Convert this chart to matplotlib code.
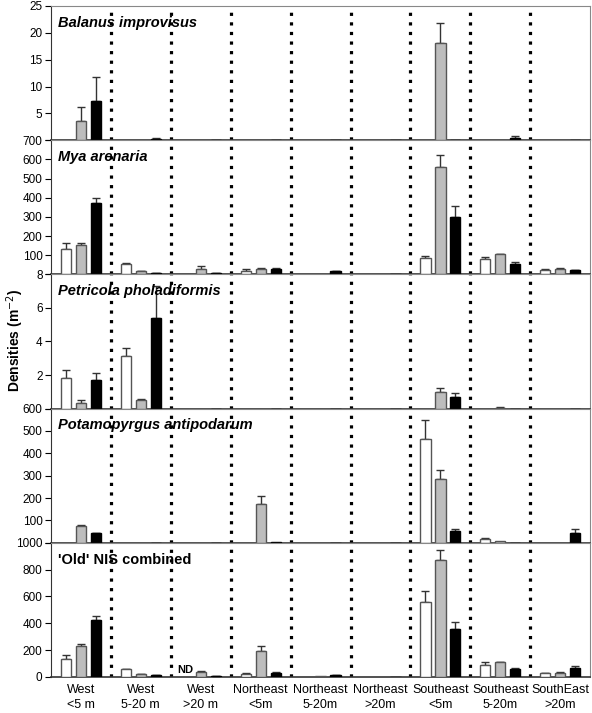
import numpy as np
import matplotlib
matplotlib.use("Agg")
import matplotlib.pyplot as plt

plt.rcParams['font.family'] = ['Liberation Sans', 'DejaVu Sans']

# === data ===
groups = ["West\n<5 m", "West\n5-20 m", "West\n>20 m",
          "Northeast\n<5m", "Northeast\n5-20m", "Northeast\n>20m",
          "Southeast\n<5m", "Southeast\n5-20m", "SouthEast\n>20m"]

titles = ["Balanus improvisus", "Mya arenaria", "Petricola pholadiformis",
          "Potamopyrgus antipodarum", "'Old' NIS combined"]

# Balanus improvisus
bal_white = [0, 0, 0, 0, 0, 0, 0, 0, 0]
bal_gray = [3.6, 0, 0, 0, 0, 0, 18.1, 0.1, 0]
bal_black = [7.3, 0.3, 0, 0, 0, 0, 0, 0.4, 0]
bal_white_err = [0, 0, 0, 0, 0, 0, 0, 0, 0]
bal_gray_err = [2.6, 0, 0, 0, 0, 0, 3.7, 0, 0]
bal_black_err = [4.4, 0.1, 0, 0, 0, 0, 0, 0.35, 0]

# Mya arenaria
mya_white = [134, 56, 0, 16, 3, 0, 87, 78, 24]
mya_gray = [155, 18, 30, 28, 4, 0, 561, 104, 30]
mya_black = [374, 7, 7, 28, 17, 3, 300, 56, 21]
mya_white_err = [30, 3, 0, 12, 0, 0, 11, 14, 6]
mya_gray_err = [10, 2, 13, 5, 0, 0, 61, 3, 3]
mya_black_err = [25, 1, 1, 5, 2, 0, 57, 7, 2]

# Petricola pholadiformis
pet_white = [1.8, 3.15, 0, 0, 0, 0, 0, 0, 0]
pet_gray = [0.35, 0.52, 0, 0, 0, 0, 1.0, 0.05, 0]
pet_black = [1.72, 5.4, 0, 0, 0, 0, 0.7, 0, 0]
pet_white_err = [0.5, 0.45, 0, 0, 0, 0, 0, 0, 0]
pet_gray_err = [0.17, 0.08, 0, 0, 0, 0, 0.2, 0.05, 0]
pet_black_err = [0.38, 1.9, 0, 0, 0, 0, 0.25, 0, 0]

# Potamopyrgus antipodarum
pot_white = [0, 0, 0, 0, 0, 0, 465, 18, 0]
pot_gray = [75, 0, 0, 173, 0, 0, 284, 6, 0]
pot_black = [43, 0, 0, 2, 0, 0, 53, 1, 46]
pot_white_err = [0, 0, 0, 0, 0, 0, 85, 4, 0]
pot_gray_err = [5, 0, 0, 36, 0, 0, 43, 0, 0]
pot_black_err = [3, 0, 0, 0, 0, 0, 9, 0, 15]

# 'Old' NIS combined
old_white = [136, 59, 0, 22, 3, 0, 562, 90, 27]
old_gray = [234, 19, 38, 196, 4, 0, 870, 110, 32]
old_black = [426, 13, 7, 30, 15, 3, 356, 62, 65]
old_white_err = [30, 4, 0, 6, 0, 0, 80, 20, 5]
old_gray_err = [12, 2, 10, 38, 0, 0, 78, 4, 3]
old_black_err = [28, 2, 1, 6, 2, 0, 57, 6, 17]

panels = [
    (bal_white, bal_gray, bal_black, bal_white_err, bal_gray_err, bal_black_err),
    (mya_white, mya_gray, mya_black, mya_white_err, mya_gray_err, mya_black_err),
    (pet_white, pet_gray, pet_black, pet_white_err, pet_gray_err, pet_black_err),
    (pot_white, pot_gray, pot_black, pot_white_err, pot_gray_err, pot_black_err),
    (old_white, old_gray, old_black, old_white_err, old_gray_err, old_black_err),
]

y_max = [25, 700, 8, 600, 1000]
y_step = [5, 100, 2, 100, 200]

# === figure ===
fig, axes = plt.subplots(5, 1, figsize=(5.92, 7.13), dpi=100, sharex=True)
fig.subplots_adjust(left=0.086, right=0.997, top=0.9916, bottom=0.0505, hspace=0)

x = np.arange(len(groups))
offsets = [-0.25, 0, 0.25]
fills = ["white", "#bdbdbd", "black"]
edges = ["#555555", "#555555", "black"]
width = 0.17

for i, ax in enumerate(axes):
    vals = panels[i][:3]
    errs = panels[i][3:]
    for k in range(3):
        v = np.array(vals[k], dtype=float)
        e = np.array(errs[k], dtype=float)
        ax.bar(x + offsets[k], v, width, color=fills[k], edgecolor=edges[k],
               linewidth=1.0, zorder=3)
        mask = e > 0
        ax.errorbar(x[mask] + offsets[k], v[mask],
                    yerr=[np.zeros(mask.sum()), e[mask]],
                    fmt="none", ecolor="#333333", elinewidth=1.0,
                    capsize=3, capthick=1.0, zorder=2)

    # dotted separators between site groups
    for s in np.arange(0.5, len(groups) - 1, 1.0):
        ax.axvline(s, color="black", linestyle=(0, (1, 2.0)), linewidth=2.3,
                   zorder=1)

    ax.set_xlim(-0.5, len(groups) - 0.5)
    ax.set_ylim(0, y_max[i])
    ticks = np.arange(0, y_max[i] + y_step[i] / 2, y_step[i])
    ax.set_yticks(ticks)
    labels = ["%g" % t for t in ticks]
    if i < 4:
        labels[0] = ""
    ax.set_yticklabels(labels)
    ax.tick_params(axis="y", direction="out", length=4, labelsize=8.5, pad=2)
    ax.tick_params(axis="x", length=0, labelsize=9, pad=5)

    for sp in ["top", "right"]:
        ax.spines[sp].set_color("#888888")
    ax.spines["left"].set_color("#333333")
    ax.spines["bottom"].set_color("#333333")
    ax.spines["bottom"].set_linewidth(1.2)

    style = "normal" if i == 4 else "italic"
    ax.text(0.013, 0.875, titles[i], transform=ax.transAxes, fontsize=10.5,
            fontweight="bold", fontstyle=style, va="center", ha="left",
            zorder=5)

axes[-1].set_xticks(x)
axes[-1].set_xticklabels(groups, linespacing=1.3)
axes[-1].text(2 - 0.25, 12, "ND", ha="center", va="bottom", fontsize=8,
              fontweight="bold")

fig.text(0.025, 0.523, "Densities (m$^{-2}$)", rotation=90, fontsize=10,
         fontweight="bold", ha="center", va="center")

plt.savefig("out.png", dpi=100)
